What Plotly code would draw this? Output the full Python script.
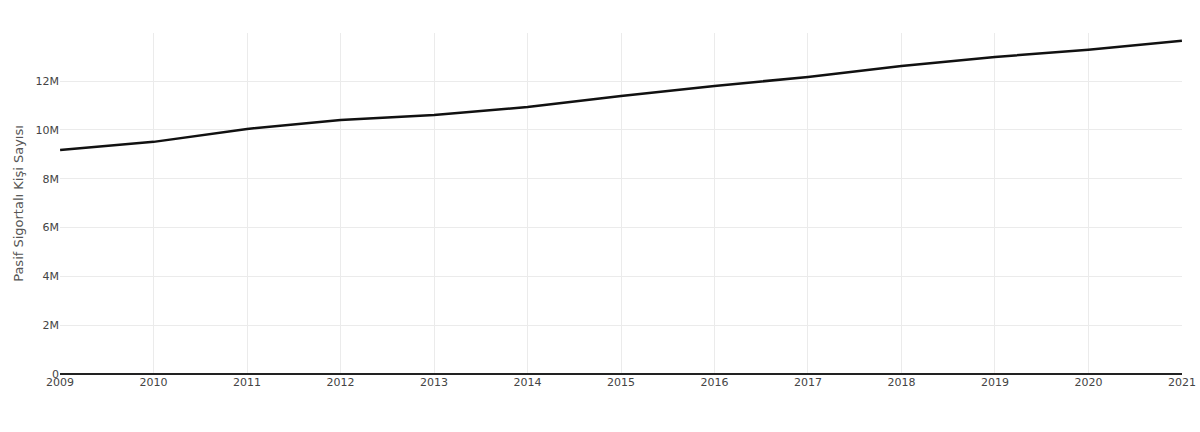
import plotly.graph_objects as go

years = [2009, 2010, 2011, 2012, 2013, 2014, 2015, 2016, 2017, 2018, 2019, 2020, 2021]
pasif_sigortali = [9.18e6, 9.51e6, 10.04e6, 10.41e6, 10.61e6, 10.94e6, 11.39e6,
                   11.80e6, 12.17e6, 12.62e6, 12.99e6, 13.28e6, 13.65e6]

fig = go.Figure(
    go.Scatter(
        x = years,
        y = pasif_sigortali,
        mode = 'lines',
        line = dict(
            color = '#111111',
            width = 2.5
        ),
        hovertemplate = '%{x}<br>%{y:,.0f}<extra></extra>'
    )
)

fig.update_layout(
    template = 'plotly_white',
    width = 1200,
    height = 432,
    showlegend = False,
    xaxis = dict(
        range = [2008.999, 2021.001],
        tickmode = 'array',
        tickvals = years,
        showgrid = True,
        gridcolor = '#ebebeb',
        zeroline = False,
        automargin = False,
        tickfont = dict(size = 11, color = '#444')
    ),
    yaxis = dict(
        range = [0, 1.397e7],
        dtick = 2e6,
        tickformat = '~s',
        showgrid = True,
        gridcolor = '#ebebeb',
        zeroline = True,
        zerolinecolor = '#222',
        zerolinewidth = 2,
        automargin = False,
        tickfont = dict(size = 11, color = '#444'),
        title = dict(
            text = 'Pasif Sigortalı Kişi Sayısı',
            font = dict(size = 13, color = '#555'),
            standoff = 8
        )
    ),
    margin = dict(l = 60, r = 18, t = 33, b = 58),
    font = dict(family = 'DejaVu Sans, Verdana, sans-serif')
)

# page margin off so the figure sits at the window corner
fig.write_html(
    'out.html',
    config = dict(displayModeBar = False),
    post_script = "document.body.style.margin = '0';"
)
